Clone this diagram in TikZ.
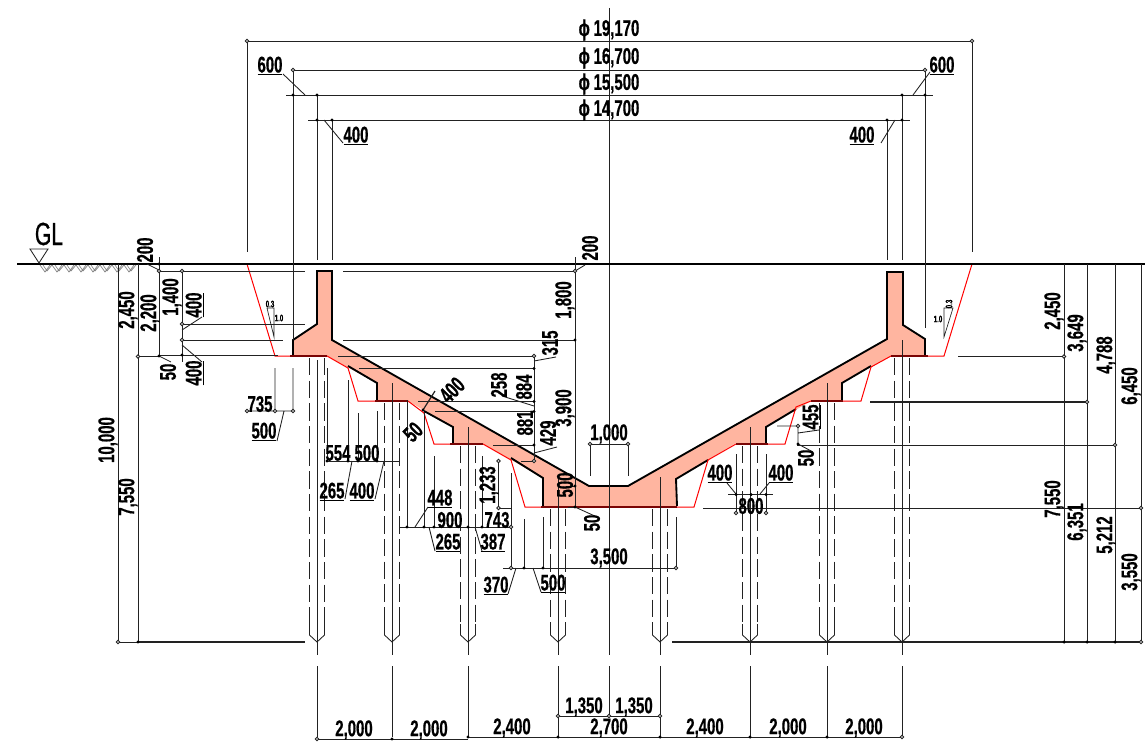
\documentclass[tikz,border=0pt]{standalone}
\usepackage{fontspec}
\usepackage{tikz}
\usetikzlibrary{arrows}
\newfontfamily\dimfont[FakeStretch=0.66,FakeBold=0.6]{Liberation Sans}
\definecolor{concrete}{HTML}{FFB5A0}
\definecolor{dimline}{HTML}{222222}
\definecolor{footing}{HTML}{7A0505}

\begin{document}
\begin{tikzpicture}[x=0.75pt,y=-0.75pt,
  dim line/.style={draw=dimline,line width=0.65pt},
  pile line/.style={draw=dimline,line width=0.65pt,dash pattern=on 13pt off 4pt},
  body line/.style={draw=black,line width=1.4pt},
  cut line/.style={draw=red,line width=0.75pt},
  foot line/.style={draw=footing,line width=2pt},
  dim text/.style={font=\dimfont\bfseries\fontsize{17}{18}\selectfont,inner sep=0pt,text=black},
  up text/.style={dim text,rotate=90},
  tiny text/.style={font=\dimfont\bfseries\fontsize{7}{8}\selectfont,inner sep=0pt}]
  \useasboundingbox (0,0) rectangle (1145,742);

  % concrete section
  \fill[concrete] (317,271) -- (332,271) -- (332,340) -- (589,486) -- (628,486) -- (887,339) -- (887,272)
    -- (903,272) -- (903,325) -- (925,339) -- (925,356) -- (891,356) -- (842,383) -- (842,401) -- (811,401)
    -- (766,427) -- (766,443) -- (736,443) -- (676,479) -- (677,507) -- (543,507) -- (543,478) -- (483,444)
    -- (453,444) -- (453,427) -- (408,401) -- (377,401) -- (377,383) -- (327,356) -- (293,356) -- (293,340)
    -- (317,324) -- cycle;
  \draw[body line] (293,355) -- (293,340) -- (317,324) -- (317,271) -- (332,271) -- (332,340) -- (589,486)
    -- (628,486) -- (887,339) -- (887,272) -- (903,272) -- (903,325) -- (925,339) -- (925,355);
  \draw[body line] (348,366) -- (377,383) -- (377,400) (424,411) -- (453,427) -- (453,443) (511,458) -- (543,478) -- (543,506);
  \draw[body line] (677,506) -- (676,479) -- (708,460) (766,443) -- (766,427) -- (796,409) (842,400) -- (842,383) -- (871,366);

  % excavation line
  \draw[cut line] (247,264) -- (275,356) -- (327,356) -- (348,368) -- (358,401) -- (375,401)
    (408,401) -- (424,413) -- (434,444) -- (450,444)
    (483,444) -- (511,460) -- (525,507) -- (541,507)
    (677,507) -- (694,507) -- (708,460) -- (736,444)
    (768,444) -- (785,444) -- (796,407) -- (811,401)
    (843,401) -- (861,401) -- (871,367) -- (891,356)
    (925,356) -- (944,356) -- (972,264);
  \foreach \xa/\xb/\ya in {290/327/356,375/408/401,450/483/444,541/677/507,736/768/444,811/843/401,891/928/356}
    \draw[foot line] (\xa,\ya) -- (\xb,\ya);

  % piles
  \foreach \px/\py in {317/358,392/403,468/446,558/509,660/509,750/446,827/403,902/358} {
    \draw[pile line] (\px-7.5,\py) -- (\px-7.5,630);
    \draw[pile line] (\px+7.5,\py) -- (\px+7.5,630);
    \draw[dim line] (\px-7.5,624) -- (\px-7.5,635) -- (\px,642) -- (\px+7.5,635) -- (\px+7.5,624);
    \draw[dim line] (\px,666) -- (\px,737);
  }
  \foreach \px/\py in {317/360,392/383,468/427,558/478,660/477,750/427,827/383,902/340}
    \draw[dim line] (\px,\py) -- (\px,655);
  \draw[dim line] (609,8) -- (609,655) (609,666) -- (609,716);

  % ground
  \draw[black,line width=1.9pt] (17,264) -- (1145,264);
  \foreach \hx in {40,52,64,76,88,100,112,124}
    \draw[gray,line width=0.5pt] (\hx,265) -- (\hx+5,272) -- (\hx+10,265) (\hx+3,265) -- (\hx+7,271) -- (\hx+12,265);
  \draw[dim line] (30,249) -- (48,249) -- (39,263) -- cycle;
  \node[dim text,font=\dimfont\fontsize{24}{25}\selectfont] (gl) at (49,234) {GL};

  % top dimensions
  \draw[dim line] (247,41) -- (972,41) (293,70) -- (925,70) (286,95) -- (933,95) (308,120) -- (910,120);
  \draw[dim line] (247,41) -- (247,252) (972,41) -- (972,252) (293,70) -- (293,340) (925,70) -- (925,328)
    (317,95) -- (317,260) (902,95) -- (902,260) (332,120) -- (332,260) (887,120) -- (887,260);
  \draw[dim line] (283,74) -- (305,95) (324,120) -- (343,143) (881,143) -- (895,120) (913,95) -- (930,72);
  \node[dim text] (phi a) at (609,30) {ϕ\,19,170};
  \node[dim text] (phi b) at (609,58) {ϕ\,16,700};
  \node[dim text] (phi c) at (609,84) {ϕ\,15,500};
  \node[dim text] (phi d) at (609,110) {ϕ\,14,700};
  \node[dim text] (top a) at (270,66) {\underline{600}};
  \node[dim text] (top b) at (356,136) {\underline{400}};
  \node[dim text] (top c) at (862,136) {\underline{400}};
  \node[dim text] (top d) at (942,66) {\underline{600}};

  % left side dimensions
  \draw[dim line] (118,264) -- (118,642) (138,264) -- (138,642) (159,257) -- (159,356) (182,271) -- (182,362);
  \draw[dim line] (159,271) -- (305,271) (343,271) -- (575,271) (182,324) -- (305,324) (182,340) -- (283,340)
    (343,340) -- (575,340);
  \draw[dim line,line width=1.2pt] (159,355.5) -- (278,355.5);
  \draw[dim line,line width=1pt] (138,642) -- (305,642);
  \draw[dim line] (118,642) -- (138,642) (138,356.5) -- (159,356.5);
  \draw[dim line] (147,264) -- (159,270) (182,330) -- (202,317) (182,345) -- (202,362) (159,356) -- (171,362);
  \node[up text] (h a) at (108,440) {10,000};
  \node[up text] (h b) at (128,497) {7,550};
  \node[up text] (h c) at (128,310) {2,450};
  \node[up text] (h d) at (150,313) {2,200};
  \node[up text] (h e) at (172,297) {1,400};
  \node[up text] (h f) at (145,250) {200};
  \node[up text] (h g) at (195,305) {\underline{400}};
  \node[up text] (h h) at (195,373) {\underline{400}};
  \node[up text] (h i) at (168,372) {50};

  % slope marks
  \draw[dim line,line width=0.5pt] (267,308) -- (274,308) -- (274,337) -- cycle;
  \draw[dim line,line width=0.5pt] (953,308) -- (944,308) -- (944,337) -- cycle;
  \node[tiny text] (sl a) at (270,304) {0.3};
  \node[tiny text] (sl b) at (279,318) {1.0};
  \node[tiny text,rotate=90] (sl c) at (949,304) {0.3};
  \node[tiny text] (sl d) at (938,319) {1.0};

  % dimensions under the left footing
  \draw[dim line] (247,411) -- (293,411) (275,368) -- (275,411) (293,368) -- (293,411) (277,441) -- (284,411);
  \node[dim text] (foot a) at (260,404) {735};
  \node[dim text] (foot b) at (264,432) {\underline{500}};

  \draw[dim line] (327,461) -- (399,461) (327,368) -- (327,461) (348,380) -- (348,461) (358,413) -- (358,461)
    (377,411) -- (377,461);
  \draw[dim line] (352,461) -- (345,499) (384,461) -- (375,499);
  \node[dim text] (st a) at (338,453) {554};
  \node[dim text] (st b) at (367,453) {500};
  \node[dim text] (st c) at (332,492) {\underline{265}};
  \node[dim text] (st d) at (362,492) {\underline{400}};

  \draw[dim line] (399,527) -- (511,527) (407,400) -- (407,527) (424,412) -- (424,527) (434,456) -- (434,527)
    (482,456) -- (482,527) (511,473) -- (511,568) (498.5,461) -- (498.5,508) (498,508) -- (512,508);
  \draw[dim line] (415,527) -- (428,507) (429,527) -- (435,551) (475,527) -- (482,551);
  \node[dim text] (st e) at (440,499) {\underline{448}};
  \node[dim text] (st f) at (450,520) {900};
  \node[dim text] (st g) at (497,520) {743};
  \node[dim text] (st h) at (448,543) {\underline{265}};
  \node[dim text] (st i) at (493,543) {\underline{387}};
  \node[up text] (st j) at (489,485) {1,233};

  \draw[dim line] (503,568) -- (676,568) (524,519) -- (524,568) (543,517) -- (543,568) (676,517) -- (676,568);
  \draw[dim line] (516,568) -- (508,594) (533,568) -- (541,592);
  \node[dim text] (st k) at (609,558) {3,500};
  \node[dim text] (st l) at (496,586) {\underline{370}};
  \node[dim text] (st m) at (553,584) {\underline{500}};

  % slope dimensions
  \draw[dim line,line width=0.9pt] (423,410) -- (435,391);
  \node[dim text,rotate=45] (sp a) at (452,390) {400};
  \node[dim text,rotate=45] (sp b) at (413,432) {50};

  % right hand ladder of the left slope
  \draw[dim line] (534,356) -- (534,461) (575,257) -- (575,507);
  \draw[dim line] (338,356) -- (534,356) (359,368.5) -- (534,368.5) (418,401.5) -- (534,401.5) (435,411.5) -- (534,411.5)
    (493,445) -- (534,445) (521,461) -- (534,461) (566,486) -- (575,486) (568,507) -- (575,507);
  \draw[dim line] (534,361) -- (556,357) (502,396) -- (534,406) (534,453) -- (557,447) (575,507) -- (597,517) (575,271) -- (585,265);
  \node[up text] (sc a) at (550,343) {315};
  \node[up text] (sc b) at (499,385) {258};
  \node[up text] (sc c) at (524,387) {884};
  \node[up text] (sc d) at (525,423) {881};
  \node[up text] (sc e) at (548,433) {429};
  \node[up text] (sc f) at (565,300) {1,800};
  \node[up text] (sc g) at (565,408) {3,900};
  \node[up text] (sc h) at (565,485) {500};
  \node[up text] (sc i) at (592,523) {50};
  \node[up text] (sc j) at (590,248) {200};

  \draw[dim line] (590,444) -- (628,444) (590,444) -- (590,476) (628,444) -- (628,476);
  \node[dim text] (mid a) at (609,434) {1,000};

  % right side dimensions
  \draw[dim line] (1064,264) -- (1064,642) (1087,264) -- (1087,642) (1115,264) -- (1115,642) (1141,264) -- (1141,642);
  \draw[dim line,line width=0.9pt] (958,356.5) -- (1064,356.5) (870,402) -- (1087,402) (672,642) -- (1141,642);
  \draw[dim line] (797,445) -- (1115,445) (703,508) -- (1141,508);
  \node[up text] (rh a) at (1054,311) {2,450};
  \node[up text] (rh b) at (1077,333) {3,649};
  \node[up text] (rh c) at (1106,355) {4,788};
  \node[up text] (rh d) at (1131,386) {6,450};
  \node[up text] (rh e) at (1054,499) {7,550};
  \node[up text] (rh f) at (1077,522) {6,351};
  \node[up text] (rh g) at (1106,535) {5,212};
  \node[up text] (rh h) at (1131,572) {3,550};

  \draw[dim line] (728,494.5) -- (773,494.5) (736,454) -- (736,513) (766,454) -- (766,513);
  \draw[dim line] (736,494) -- (727,483) (760,494) -- (769,483);
  \node[dim text] (ft a) at (720,474) {\underline{400}};
  \node[dim text] (ft b) at (781,474) {\underline{400}};
  \node[dim text] (ft c) at (751,506) {800};
  \draw[dim line] (777,426) -- (798,426) (798,426) -- (798,443) (798,433) -- (819,430) (798,444) -- (813,452);
  \node[up text] (ft d) at (812,417) {\underline{455}};
  \node[up text] (ft e) at (806,458) {50};

  % bottom dimensions
  \draw[dim line] (317,739) -- (468,739) (468,737) -- (902,737) (558,716) -- (660,716);
  \node[dim text] (bt a) at (354,730) {2,000};
  \node[dim text] (bt b) at (429,730) {2,000};
  \node[dim text] (bt c) at (512,728) {2,400};
  \node[dim text] (bt d) at (609,728) {2,700};
  \node[dim text] (bt e) at (584,707) {1,350};
  \node[dim text] (bt f) at (634,707) {1,350};
  \node[dim text] (bt g) at (705,728) {2,400};
  \node[dim text] (bt h) at (788,728) {2,000};
  \node[dim text] (bt i) at (864,728) {2,000};

  % end points of the dimension lines
  \foreach \ex/\ey in {293/95,317/95,317/120,332/120,887/120,902/120,902/95,925/95,
    159/264,159/356,182/355,138/642,327/461,348/461,358/461,377/461,407/527,424/527,434/527,468/527,482/527,
    524/568,543/568,534/368.5,534/401.5,534/411.5,534/445,575/486,575/507,575/340,423/410,
    468/737,558/737,660/737,750/737,827/737,392/739,1064/642,1087/642,1115/642,736/494.5,751/494.5,766/494.5,798/444}
    \fill[black] (\ex,\ey) circle (1.3pt);
  \foreach \ex/\ey in {247/41,972/41,293/70,925/70,159/271,182/271,182/324,182/340,138/356.5,247/411,275/411,293/411,118/642,
    534/356,534/461,575/271,511/527,498.5/461,498.5/508,511/568,676/568,590/444,628/444,
    1064/356.5,1087/402,1115/445,1141/508,1141/642,736/513,766/513,798/426,558/716,609/716,660/716,317/739,902/737}
    \draw[dim line,fill=white] (\ex,\ey) circle (1.3pt);
\end{tikzpicture}
\end{document}
